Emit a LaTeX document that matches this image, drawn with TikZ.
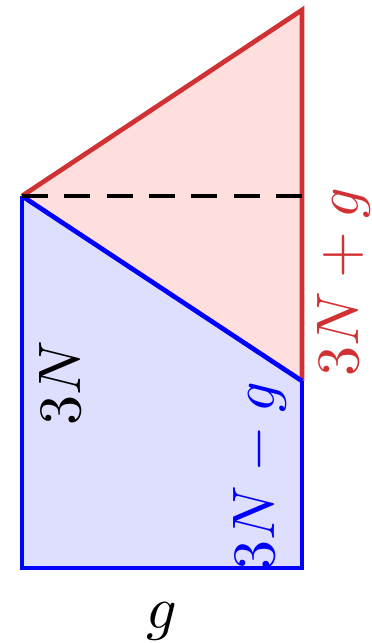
\documentclass[tikz,border=0pt]{standalone}
\definecolor{myred}{RGB}{208,50,52}
\definecolor{mypink}{RGB}{255,222,222}
\definecolor{mylav}{RGB}{222,222,255}
\begin{document}
\begin{tikzpicture}[x=1pt,y=-1pt,
  lbl/.style={inner sep=0pt,scale=6},
  edge/.style={line width=4.7pt,line join=miter}]
\useasboundingbox (0,0) rectangle (372,643);
\coordinate (TL) at (22,196);
\coordinate (BL) at (22,568);
\coordinate (BR) at (302,568);
\coordinate (MR) at (302,381);
\coordinate (TR) at (302,10);
\coordinate (DR) at (302,196);
\fill[mylav] (TL) -- (BL) -- (BR) -- (MR) -- cycle;
\fill[mypink] (TL) -- (TR) -- (MR) -- cycle;
\draw[edge,myred] (MR) -- (TR) -- (TL);
\draw[edge,blue] (TL) -- (MR);
\draw[edge,blue] (MR) -- (BR) -- (BL) -- (TL);
\draw[line width=4.5pt,dash pattern=on 26pt off 16.3pt] (TL) -- (DR);
\node[lbl,rotate=90] (a) at (60,383) {$3N$};
\node[lbl,rotate=90,text=blue] (b) at (260,476) {$3N-g$};
\node[lbl,rotate=90,text=myred] (c) at (344,282) {$3N+g$};
\node[lbl] (d) at (162,621) {$g$};
\end{tikzpicture}
\end{document}
